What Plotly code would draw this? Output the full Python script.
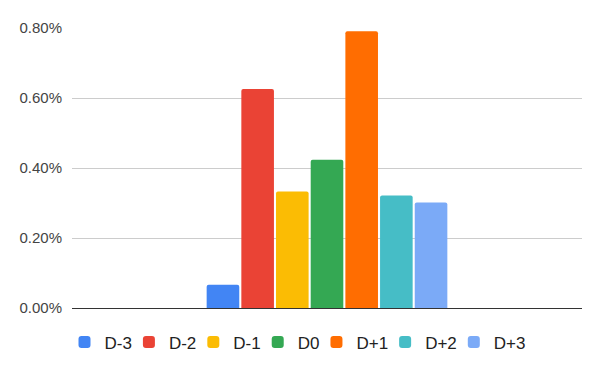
import plotly.graph_objects as go

series = ["D-3", "D-2", "D-1", "D0", "D+1", "D+2", "D+3"]
values = [0.000663, 0.006257, 0.003327, 0.004237, 0.007906, 0.003214, 0.003015]
colors = ["#4285F4", "#EA4335", "#FBBC04", "#34A853", "#FF6D01", "#46BDC6", "#7BAAF7"]
category = [""]
y_ticks = [0, 0.002, 0.004, 0.006, 0.008]

fig = go.Figure()
for name, v, c in zip(series, values, colors):
    fig.add_trace(go.Bar(x=category, y=[v], name=name,
                         marker=dict(color=c, line=dict(width=0))))

fig.update_layout(
    width=592, height=363,
    margin=dict(l=64, r=18, t=20, b=62),
    paper_bgcolor="white", plot_bgcolor="white",
    barmode="group", bargap=0.524, bargroupgap=0.06,
    barcornerradius=2,
    font=dict(family="Arial", color="#222"),
    showlegend=True,
    legend=dict(orientation="h", x=0.45, xanchor="center",
                y=-0.055, yanchor="top", indentation=-8,
                font=dict(size=17, color="#222"), itemwidth=30, tracegroupgap=0),
    xaxis=dict(type="category", showticklabels=False, showgrid=False, zeroline=False,
               showline=False, range=[-0.5, 0.5]),
    yaxis=dict(range=[0, 0.008], tickvals=y_ticks, tickformat=".2%",
               showgrid=True, gridcolor="#cccccc", gridwidth=1,
               zeroline=True, zerolinecolor="#333333", zerolinewidth=1,
               tickfont=dict(size=15, color="#444"), ticks="", ticklabelstandoff=9),
)

fig.write_html("out.html")
